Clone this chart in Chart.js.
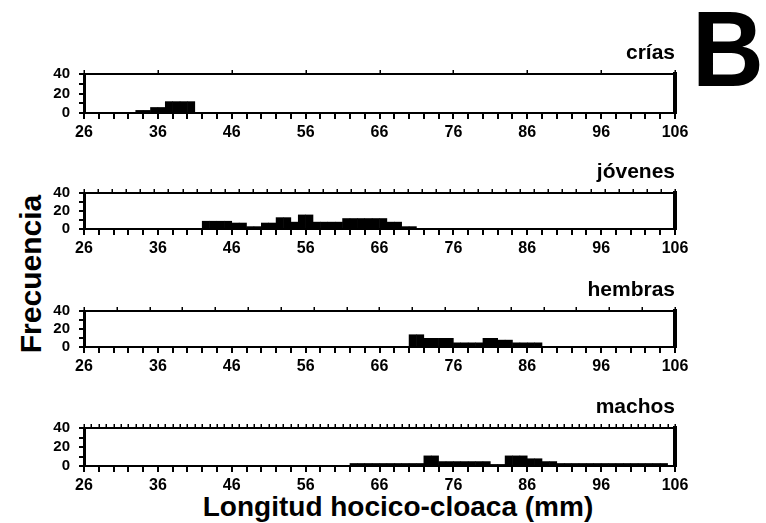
<!DOCTYPE html>
<html>
<head>
<meta charset="utf-8">
<script src="https://cdn.jsdelivr.net/npm/chart.js@4.4.0/dist/chart.umd.min.js"></script>
<style>
  html, body { margin: 0; padding: 0; background: #fff; }
  #figure {
    position: relative; width: 766px; height: 523px; overflow: hidden;
    font-family: "Liberation Sans", Arial, sans-serif; font-weight: bold; color: #000;
  }
  #figure canvas { position: absolute; left: 0; }
  .label { position: absolute; white-space: nowrap; line-height: 1; }
  #panel-letter { left: 692px; top: -4px; font-size: 107px; transform: scaleX(0.93); transform-origin: left top; }
  #y-title { left: 30.6px; top: 274px; font-size: 30px; transform: translate(-50%, -50%) rotate(-90deg); }
  #x-title { left: 398px; top: 493px; font-size: 28px; transform: translateX(-50%); }
</style>
</head>
<body>
<div id="figure">
  <div class="label" id="panel-letter">B</div>
  <div class="label" id="y-title">Frecuencia</div>
  <div class="label" id="x-title">Longitud hocico-cloaca (mm)</div>
</div>
<script>
// snout-vent length range shown on every panel (mm)
const LENGTH_MIN = 26;
const LENGTH_MAX = 106;

// counts per 1 mm length class, first class starting at *Start
const criasStart = 33;
const crias = [3, 3, 6, 6, 12, 12, 12, 12];

const jovenesStart = 42;
const jovenes = [9, 9, 9, 9, 7, 7, 3, 3, 7, 7, 13, 13, 8, 16, 16, 8, 8, 8, 8,
  12, 12, 12, 12, 12, 12, 8, 8, 3, 3];

const hembrasStart = 70;
const hembras = [14, 14, 10, 10, 10, 10, 5, 5, 5, 5, 10, 10, 8, 8, 5, 5, 5, 5];

const machosStart = 62;
const machos = [3, 3, 3, 3, 3, 3, 3, 3, 3, 3, 11, 11, 5, 5, 5, 5, 5, 5, 5, 2, 2,
  11, 11, 11, 8, 8, 5, 5, 3, 3, 3, 3, 3, 3, 3, 3, 3, 3, 3, 3, 3, 3, 3];

const yTicks = [0, 20, 40];

const FONT = '"Liberation Sans", Arial, sans-serif';
Chart.defaults.font.family = FONT;
Chart.defaults.font.weight = 'bold';
Chart.defaults.color = '#000';

// one strip per group; top/height place the canvas on the page
const panels = [
  { title: 'crías',   start: criasStart,   counts: crias,   topStep: 10,      top: 41,  height: 104 },
  { title: 'jóvenes', start: jovenesStart, counts: jovenes, topStep: 80 / 42, top: 160, height: 101 },
  { title: 'hembras', start: hembrasStart, counts: hembras, topStep: 80 / 18, top: 278, height: 101 },
  { title: 'machos',  start: machosStart,  counts: machos,  topStep: 1,       top: 395, height: 103 },
];

function binPoints(start, counts) {
  return counts.map((n, i) => ({ x: start + i + 0.5, y: n }));
}

function fixedSize(prop, size) {
  return (scale) => { scale[prop] = size; };
}

// little tick marks outside the frame: every 2 mm below, every topStep above,
// every 10 on the frequency axis
const tickCombs = {
  id: 'tickCombs',
  afterDraw(chart, args, opts) {
    const { ctx, chartArea: area, scales: { x, y } } = chart;
    ctx.save();
    ctx.strokeStyle = '#000';
    ctx.beginPath();
    ctx.lineWidth = 2;
    for (let v = LENGTH_MIN; v <= LENGTH_MAX + 1e-6; v += 2) {
      const px = Math.round(x.getPixelForValue(v));
      ctx.moveTo(px, area.bottom);
      ctx.lineTo(px, area.bottom + opts.bottomLength);
    }
    for (let v = 0; v <= 40; v += 10) {
      const py = Math.round(y.getPixelForValue(v));
      ctx.moveTo(area.left, py);
      ctx.lineTo(area.left - opts.leftLength, py);
    }
    ctx.stroke();
    ctx.beginPath();
    ctx.lineWidth = 1.5;
    for (let v = LENGTH_MIN; v <= LENGTH_MAX + 1e-6; v += opts.topStep) {
      const px = Math.round(x.getPixelForValue(v)) + 0.25;
      ctx.moveTo(px, area.top);
      ctx.lineTo(px, area.top - opts.topLength);
    }
    ctx.stroke();
    ctx.restore();
  },
};

function panelConfig(p) {
  return {
    type: 'bar',
    data: {
      datasets: [{
        data: binPoints(p.start, p.counts),
        xAxisID: 'x',
        yAxisID: 'y',
        backgroundColor: '#000',
        borderWidth: 0,
        barPercentage: 1.08,
        categoryPercentage: 1,
      }],
    },
    plugins: [tickCombs],
    options: {
      responsive: false,
      animation: false,
      devicePixelRatio: 1,
      layout: { padding: { left: 0, right: 91, top: 0, bottom: 0 } },
      plugins: {
        legend: { display: false },
        tooltip: { enabled: false },
        title: {
          display: true,
          text: p.title,
          align: 'end',
          color: '#000',
          font: { size: 21, weight: 'bold', lineHeight: '24px' },
          padding: { top: 0, bottom: 5 },
        },
        tickCombs: { topStep: p.topStep, topLength: 4, bottomLength: 6, leftLength: 5 },
      },
      scales: {
        x: {
          type: 'linear',
          position: 'bottom',
          min: LENGTH_MIN,
          max: LENGTH_MAX,
          offset: false,
          grid: { display: false, drawTicks: false, offset: false },
          border: { color: '#000', width: 2, z: 1 },
          ticks: {
            stepSize: 10,
            autoSkip: false,
            maxRotation: 0,
            padding: 10,
            color: '#000',
            font: { size: 16 },
          },
          afterFit: fixedSize('height', 32),
        },
        xTop: {
          type: 'linear',
          position: 'top',
          min: LENGTH_MIN,
          max: LENGTH_MAX,
          grid: { display: false, drawTicks: false },
          border: { color: '#000', width: 2, z: 1 },
          ticks: { display: false },
          afterFit: fixedSize('height', 4),
        },
        y: {
          position: 'left',
          min: 0,
          max: 40,
          grid: { display: false, drawTicks: false },
          border: { color: '#000', width: 3, z: 1 },
          ticks: {
            stepSize: 10,
            autoSkip: false,
            padding: 14,
            color: '#000',
            font: { size: 15 },
            callback: (v) => (yTicks.includes(v) ? String(v) : ''),
          },
          afterFit: fixedSize('width', 84),
        },
        yRight: {
          position: 'right',
          min: 0,
          max: 40,
          grid: { display: false },
          border: { color: '#000', width: 4, z: 1 },
          ticks: { display: false },
          afterFit: fixedSize('width', 0),
        },
      },
    },
  };
}

const figure = document.getElementById('figure');
panels.forEach((p) => {
  const canvas = document.createElement('canvas');
  canvas.width = 766;
  canvas.height = p.height;
  canvas.style.top = p.top + 'px';
  figure.appendChild(canvas);
  new Chart(canvas, panelConfig(p));
});
</script>
</body>
</html>
